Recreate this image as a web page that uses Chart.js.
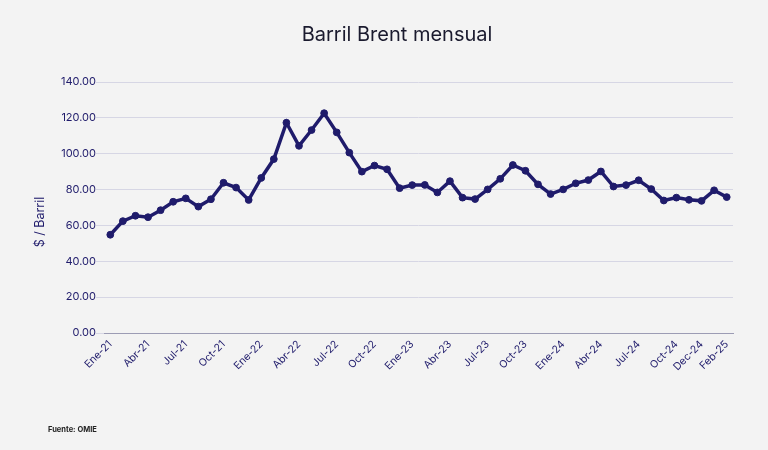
<!DOCTYPE html>
<html>
<head>
<meta charset="utf-8">
<script src="https://cdn.jsdelivr.net/npm/chart.js@4/dist/chart.umd.min.js"></script>
<style>
  html, body { margin: 0; padding: 0; background: #f3f3f3; }
  #wrap { position: relative; width: 768px; height: 450px; }
  #title {
    position: absolute; left: 297px; width: 200px; top: 22px;
    text-align: center; white-space: nowrap;
    font: 20px "Inter", sans-serif; color: #1a1a2e;
  }
  #fuente {
    position: absolute; left: 48px; top: 425px;
    font: bold 7.5px "Inter", sans-serif; color: #222;
  }
</style>
</head>
<body>
<div id="wrap">
  <canvas id="brentChart" width="768" height="450"></canvas>
  <div id="title">Barril Brent mensual</div>
  <div id="fuente">Fuente: OMIE</div>
</div>
<script>
//
//
// Data
var months = [
    'Ene-21','Feb-21','Mar-21','Abr-21','May-21','Jun-21','Jul-21','Ago-21','Sep-21','Oct-21','Nov-21','Dic-21',
    'Ene-22','Feb-22','Mar-22','Abr-22','May-22','Jun-22','Jul-22','Ago-22','Sep-22','Oct-22','Nov-22','Dic-22',
    'Ene-23','Feb-23','Mar-23','Abr-23','May-23','Jun-23','Jul-23','Ago-23','Sep-23','Oct-23','Nov-23','Dic-23',
    'Ene-24','Feb-24','Mar-24','Abr-24','May-24','Jun-24','Jul-24','Ago-24','Sep-24','Oct-24','Nov-24','Dec-24',
    'Ene-25','Feb-25'
];
var brent = [
    54.8, 62.4, 65.4, 64.6, 68.5, 73.2, 75.1, 70.5, 74.6, 83.8, 81.1, 74.2,
    86.5, 97.0, 117.3, 104.4, 113.2, 122.6, 111.9, 100.6, 90.0, 93.4, 91.3, 80.8,
    82.5, 82.6, 78.4, 84.7, 75.5, 74.7, 80.1, 86.0, 93.7, 90.5, 82.9, 77.5,
    80.1, 83.5, 85.3, 90.1, 81.7, 82.5, 85.2, 80.3, 73.9, 75.5, 74.3, 73.7,
    79.6, 75.8
];
var shownTicks = [
    'Ene-21','Abr-21','Jul-21','Oct-21','Ene-22','Abr-22','Jul-22','Oct-22',
    'Ene-23','Abr-23','Jul-23','Oct-23','Ene-24','Abr-24','Jul-24','Oct-24',
    'Dec-24','Feb-25'
];
var yTicks = [0, 20, 40, 60, 80, 100, 120, 140];
var yTitle = '$ / Barril';

var navy = '#1f1b6b';
var fontFamily = '"Inter", "Noto Sans", sans-serif';

//
// Y axis title, drawn a bit below the chart area centre like the original
var yTitlePlugin = {
    id: 'yTitle',
    afterDraw: function(chart) {
        var c = chart.ctx;
        c.save();
        c.translate(40, 222);
        c.rotate(-Math.PI / 2);
        c.fillStyle = navy;
        c.font = '12.5px ' + fontFamily;
        c.textAlign = 'center';
        c.textBaseline = 'middle';
        c.fillText(yTitle, 0, 0);
        c.restore();
    }
};

//
//
// Chart
var ctx = document.getElementById('brentChart').getContext('2d');
new Chart(ctx, {
    type: 'line',
    data: {
        labels: months,
        datasets: [{
            label: 'Barril Brent',
            data: brent,
            borderColor: navy,
            backgroundColor: navy,
            borderWidth: 3.5,
            pointRadius: 3.4,
            pointBorderWidth: 1,
            pointHoverRadius: 4,
            tension: 0,
            fill: false
        }]
    },
    plugins: [yTitlePlugin],
    options: {
        responsive: false,
        animation: false,
        layout: {
            padding: { left: 0, right: 35, top: 82, bottom: 0 }
        },
        plugins: {
            legend: { display: false },
            tooltip: { enabled: false },
            title: { display: false }
        },
        scales: {
            x: {
                offset: true,
                grid: { display: false, drawTicks: false },
                border: { display: true, color: '#9c9cb4', width: 1 },
                ticks: {
                    autoSkip: false,
                    maxRotation: 45,
                    minRotation: 45,
                    padding: 5,
                    color: navy,
                    font: { family: fontFamily, size: 10.5 },
                    callback: function(value, index) {
                        var lbl = months[index];
                        return shownTicks.indexOf(lbl) >= 0 ? lbl : '';
                    }
                },
                afterFit: function(scale) { scale.height = 117; }
            },
            y: {
                min: yTicks[0],
                max: yTicks[yTicks.length - 1],
                grid: { color: '#d6d6e4', lineWidth: 1, tickLength: 8 },
                border: { display: false },
                ticks: {
                    stepSize: 20,
                    padding: 0,
                    color: navy,
                    font: { family: fontFamily, size: 11 },
                    callback: function(value) { return Number(value).toFixed(2); }
                },
                afterFit: function(scale) { scale.width = 104; }
            }
        }
    }
});
</script>
</body>
</html>
